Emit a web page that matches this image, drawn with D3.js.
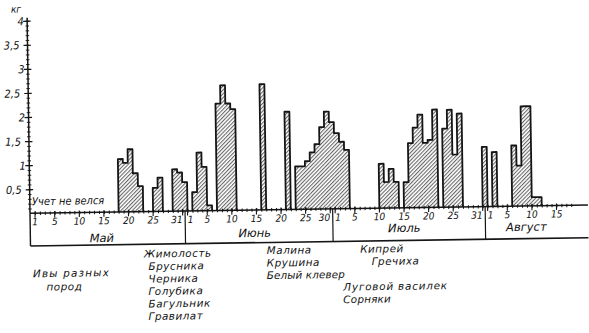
<!DOCTYPE html>
<html><head><meta charset="utf-8">
<script src="https://cdn.jsdelivr.net/npm/d3@7"></script>
<style>
html,body{margin:0;padding:0;background:#fff;}
svg{display:block;}
text{font-family:"DejaVu Sans Condensed","DejaVu Sans",sans-serif;font-style:italic;fill:#111;}
.ann{font-family:"DejaVu Sans",sans-serif;}
</style></head><body>
<svg id="chart" width="589" height="333"></svg>
<script>
// ---------- data ----------
const monthNames = ["Май", "Июнь", "Июль", "Август"];
const monthStartDay = [0, 31, 61, 92];            // day index of the 1st (0 = 1 May)
const monthTickDays = [[1,5,10,15,20,25,31],[1,5,10,15,20,25,30],[1,5,10,15,20,25,31],[1,5,10,15]];
const yTickValues = [0.5, 1, 1.5, 2, 2.5, 3, 3.5, 4];
const yTickLabels = ["0,5", "1", "1,5", "2", "2,5", "3", "3,5", "4"];
const unitLabel = "кг";
const noRecordLabel = "Учет не велся";
// daily honey-flow (kg), day index from 1 May
const barDay = [17,18,19,20,21, 24,25, 28,29,30,
                32,33,34,35, 37,38,39,40, 46, 51,
                53,54,55,56,57,58,59,60,61,62,63,
                70,71,72,73, 75,76,77,78,79,80,81, 83,84,85,86,
                91, 93, 97,98,99,100,101,102];
const barKg  = [1.10,1.02,1.30,0.80,0.53, 0.49,0.70, 0.87,0.80,0.60,
                0.39,1.21,0.91,0.11, 2.22,2.60,2.22,2.10, 2.61, 2.03,
                0.89,0.89,1.00,1.18,1.35,1.70,2.02,1.80,1.57,1.39,1.22,
                0.92,0.54,0.81,0.54, 0.53,1.34,1.66,1.93,1.34,1.40,2.03, 1.63,2.02,1.09,1.94,
                1.24, 1.13, 1.26,0.84,2.07,2.07,0.18,0.18];
const plantNames = ["Жимолость","Брусника","Черника","Голубика","Багульник","Гравилат",
                    "Ивы разных","пород",
                    "Малина","Крушина","Белый клевер",
                    "Кипрей","Гречиха","Луговой василек","Сорняки"];

// ---------- layout (unrotated frame) ----------
const plantPos = [[143.4,255.5],[147.7,268],[147.5,280.5],[147.3,293],[147.1,305.5],[147,318],
                  [32.1,273.5],[45.4,287],
                  [266.2,253.8],[266,266.3],[265.8,278.8],
                  [359.5,253.9],[371,266.4],[342.2,291.5],[342,304]];
const plantSpacing = [0.5,0.5,0.5,0.5,0.5,0.5, 1.2,0.5, 0.5,0.5,0.1, 0.5,0.5,0.8,0.2];
const monthLabelPos = [[13.5,239.1],[44.6,236.3],[75,233.5],[99.8,234.3]];
const ink = "#151515";

const svg = d3.select("#chart");
const defs = svg.append("defs");
const pat = defs.append("pattern").attr("id","hatch").attr("patternUnits","userSpaceOnUse")
  .attr("width",2.7).attr("height",10).attr("patternTransform","rotate(45)");
pat.append("line").attr("x1",0.6).attr("x2",0.6).attr("y1",0).attr("y2",10)
  .attr("stroke",ink).attr("stroke-width",0.75);

const g = svg.append("g").attr("transform","rotate(-0.85,30,213)");

const x = d3.scaleLinear().domain([0, 112]).range([35, 35 + 4.92*112]);
const y = d3.scaleLinear().domain([0, 4]).range([213.3, 20.7]);

// bars (hatch fill)
const bars = barDay.map((d,i)=>({day:d, kg:barKg[i]}));
g.append("g").selectAll("rect").data(bars).join("rect")
  .attr("x", d=>x(d.day)).attr("width", d=>x(d.day+1)-x(d.day))
  .attr("y", d=>y(d.kg)).attr("height", d=>y(0)-y(d.kg))
  .attr("fill","url(#hatch)");

// outlines of contiguous runs
const runs = [];
bars.forEach(b=>{ const last = runs[runs.length-1];
  if (last && last[last.length-1].day === b.day-1) last.push(b); else runs.push([b]); });
g.append("g").selectAll("path").data(runs).join("path")
  .attr("d", run=>{ const p = d3.path(); p.moveTo(x(run[0].day), y(0));
    run.forEach(b=>{ p.lineTo(x(b.day), y(b.kg)); p.lineTo(x(b.day+1), y(b.kg)); });
    p.lineTo(x(run[run.length-1].day+1), y(0)); return p.toString(); })
  .attr("fill","none").attr("stroke",ink).attr("stroke-width",1.8).attr("stroke-linejoin","round");

// x axis line
g.append("line").attr("x1",30).attr("x2",x(112.4)).attr("y1",y(0)).attr("y2",y(0))
  .attr("stroke",ink).attr("stroke-width",1.5);
// minor day ticks
const minorAxis = d3.axisBottom(x).tickValues(d3.range(0,110)).tickSize(0).tickFormat("");
const gx = g.append("g").attr("transform",`translate(0,${y(0)})`).call(minorAxis);
gx.select(".domain").remove();
gx.selectAll(".tick line").attr("y1",-1.6).attr("y2",1.8).attr("stroke",ink).attr("stroke-width",1);
// major ticks + labels
const majors = [];
monthTickDays.forEach((days,m)=>days.forEach((D,k)=>majors.push({m, D, s: monthStartDay[m]+D-1,
  first: D===1 && m>0, last: k===days.length-1 && m<3})));
const gm = g.append("g").attr("transform",`translate(0,${y(0)})`);
gm.selectAll("line").data(majors).join("line")
  .attr("x1",d=>x(d.s)).attr("x2",d=>x(d.s)).attr("y1",-2).attr("y2",4.5)
  .attr("stroke",ink).attr("stroke-width",1.1);
gm.selectAll("text").data(majors).join("text")
  .attr("x",d=> d.first ? x(d.s-0.5)+2.5 : d.last ? x(d.s+0.5)-2.5 : x(d.s))
  .attr("text-anchor",d=> d.first ? "start" : d.last ? "end" : "middle")
  .attr("y",12).attr("font-size",10).text(d=>d.D);

// month box
const boxY = 246;
g.append("line").attr("x1",30).attr("x2",30).attr("y1",y(0)).attr("y2",boxY).attr("stroke",ink).attr("stroke-width",1.4);
g.append("line").attr("x1",30).attr("x2",x(112.4)).attr("y1",boxY).attr("y2",boxY).attr("stroke",ink).attr("stroke-width",1.6);
g.append("g").selectAll("line").data(monthStartDay.slice(1)).join("line")
  .attr("x1",d=>x(d-0.5)).attr("x2",d=>x(d-0.5)).attr("y1",y(0)).attr("y2",boxY)
  .attr("stroke",ink).attr("stroke-width",1.2);
g.append("g").selectAll("text").data(monthNames).join("text")
  .attr("x",(d,i)=>x(monthLabelPos[i][0])).attr("y",(d,i)=>monthLabelPos[i][1]+4)
  .attr("text-anchor","middle").attr("font-size",11.5).attr("class","ann").text(d=>d);

// y axis
g.append("line").attr("x1",30).attr("x2",30).attr("y1",y(0)).attr("y2",y(4.06))
  .attr("stroke",ink).attr("stroke-width",1.5);
const minorY = d3.axisLeft(y).tickValues(d3.range(1,41).map(v=>v/10)).tickSize(0).tickFormat("");
const gy0 = g.append("g").attr("transform","translate(30,0)").call(minorY);
gy0.select(".domain").remove();
gy0.selectAll(".tick line").attr("x1",-1.8).attr("x2",1.8).attr("stroke",ink).attr("stroke-width",0.9);
const yAxis = d3.axisLeft(y).tickValues(yTickValues).tickFormat((d,i)=>yTickLabels[i]).tickSize(0);
const gy = g.append("g").attr("transform","translate(30,0)").call(yAxis);
gy.select(".domain").remove();
gy.selectAll(".tick line").attr("x1",-4).attr("x2",3.5).attr("stroke",ink).attr("stroke-width",1.2);
gy.selectAll(".tick text").attr("x",d=> Number.isInteger(d) ? -3.5 : -8).attr("dy","0.35em")
  .attr("font-size",11).attr("fill",ink).attr("font-family",null);
g.append("text").attr("x",19).attr("y",12.5).attr("text-anchor","middle").attr("font-size",10).text(unitLabel);

// "no record" note
g.append("text").attr("x",32.2).attr("y",205.2).attr("font-size",11).text(noRecordLabel);

// plant annotations
g.append("g").selectAll("text").data(plantNames).join("text").attr("class","ann")
  .attr("x",(d,i)=>plantPos[i][0]).attr("y",(d,i)=>plantPos[i][1]+3.8)
  .attr("font-size",10.4).attr("letter-spacing",(d,i)=>plantSpacing[i]).text(d=>d);
</script>
</body></html>
